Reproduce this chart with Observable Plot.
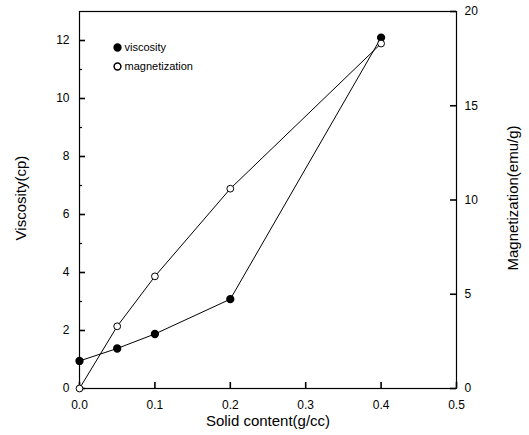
<!DOCTYPE html>
<html><head><meta charset="utf-8">
<script src="https://cdn.jsdelivr.net/npm/d3@7"></script>
<script src="https://cdn.jsdelivr.net/npm/@observablehq/plot@0.6"></script>
<style>body{margin:0;background:#fff}</style>
</head><body><div id="chart"></div>
<script>
const solid = [0, 0.05, 0.1, 0.2, 0.4];
const viscosity = [0.95, 1.38, 1.88, 3.08, 12.1];
const magnetization = [0, 3.3, 5.95, 10.6, 18.3];
const xTicks = [0, 0.1, 0.2, 0.3, 0.4, 0.5];
const leftTicks = [0, 2, 4, 6, 8, 10, 12];
const leftMinor = [1, 3, 5, 7, 9, 11];
const rightTicks = [0, 5, 10, 15, 20];
const seriesNames = ["viscosity", "magnetization"];
const xLabel = "Solid content(g/cc)";
const yLabel = "Viscosity(cp)";
const y2Label = "Magnetization(emu/g)";

const xMax = 0.5, yMax = 13, mMax = 20;
const toLeft = m => m * yMax / mMax;
const visc = solid.map((s, i) => ({x: s, y: viscosity[i]}));
const mag = solid.map((s, i) => ({x: s, y: toLeft(magnetization[i])}));

const W = 529, H = 435, mL = 79, mR = 73, mT = 11, mB = 47;
const fw = W - mL - mR, fh = H - mT - mB;
// tick lengths given in pixels, converted to data units
const kx = px => px * xMax / fw, ky = px => px * yMax / fh;

const chart = Plot.plot({
  width: W, height: H,
  marginLeft: mL, marginRight: mR, marginTop: mT, marginBottom: mB,
  style: {fontFamily: "'Liberation Sans', Arial, sans-serif", fontSize: "12px", color: "black", background: "white"},
  x: {domain: [0, xMax]},
  y: {domain: [0, yMax]},
  marks: [
    Plot.frame({stroke: "black", strokeWidth: 1.2}),
    // inward ticks
    Plot.ruleY(leftTicks, {y: d => d, x1: 0, x2: kx(6), stroke: "black", strokeWidth: 1.6}),
    Plot.ruleY(leftMinor, {y: d => d, x1: 0, x2: kx(3), stroke: "black", strokeWidth: 1.2}),
    Plot.ruleY(rightTicks.map(toLeft), {y: d => d, x1: xMax - kx(6), x2: xMax, stroke: "black", strokeWidth: 1.6}),
    Plot.ruleX(xTicks, {x: d => d, y1: 0, y2: ky(6), stroke: "black", strokeWidth: 1.6}),
    // tick labels
    Plot.axisX(xTicks, {tickSize: 0, tickPadding: 12, tickFormat: d3.format(".1f"), label: null, fontSize: 12}),
    Plot.axisY(leftTicks, {anchor: "left", tickSize: 0, tickPadding: 10, label: null, fontSize: 12}),
    Plot.axisY(rightTicks.map(toLeft), {anchor: "right", tickSize: 0, tickPadding: 8, tickFormat: d => String(Math.round(d * mMax / yMax)), label: null, fontSize: 12}),
    // data
    Plot.line(visc, {x: "x", y: "y", stroke: "black", strokeWidth: 1}),
    Plot.line(mag, {x: "x", y: "y", stroke: "black", strokeWidth: 1}),
    Plot.dot(visc, {x: "x", y: "y", r: 3.4, fill: "black", stroke: "black"}),
    Plot.dot(mag, {x: "x", y: "y", r: 3.4, fill: "white", stroke: "black", strokeWidth: 1}),
    // legend
    Plot.dot([seriesNames[0]], {frameAnchor: "top-left", dx: 38, dy: 36, r: 3.4, fill: "black", stroke: "black"}),
    Plot.dot([seriesNames[1]], {frameAnchor: "top-left", dx: 38, dy: 55, r: 3.4, fill: "white", stroke: "black"}),
    Plot.text([seriesNames[0]], {text: d => d, frameAnchor: "top-left", dx: 45, dy: 36, textAnchor: "start", lineAnchor: "middle", fontSize: 11}),
    Plot.text([seriesNames[1]], {text: d => d, frameAnchor: "top-left", dx: 45, dy: 55, textAnchor: "start", lineAnchor: "middle", fontSize: 11}),
    // axis titles
    Plot.text([xLabel], {text: d => d, frameAnchor: "bottom", dy: 37, textAnchor: "middle", fontSize: 15}),
    Plot.text([yLabel], {text: d => d, frameAnchor: "left", dx: -58, dy: -2, textAnchor: "middle", rotate: -90, fontSize: 15}),
    Plot.text([y2Label], {text: d => d, frameAnchor: "right", dx: 57, dy: -2, textAnchor: "middle", rotate: -90, fontSize: 15})
  ]
});
document.getElementById("chart").append(chart);
</script>
</body></html>
